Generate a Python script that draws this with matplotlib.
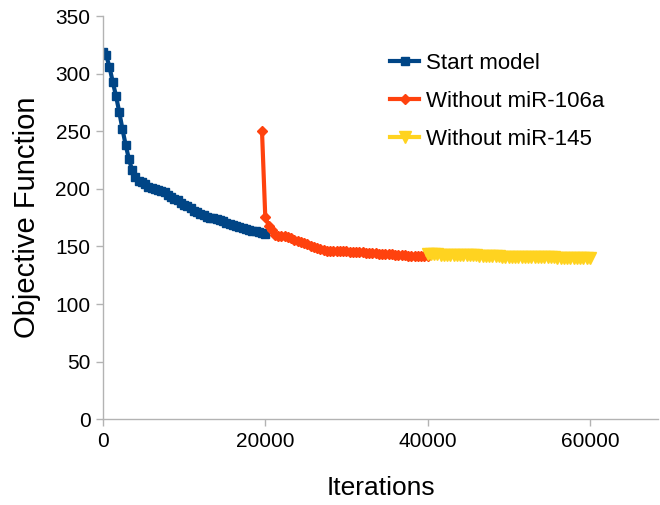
import numpy as np
import matplotlib.pyplot as plt

plt.rcParams['font.family'] = ['Liberation Sans', 'DejaVu Sans']

# objective value recorded every 400 iterations
step = 400

start_iter = list(range(0, 20001, step))
start_obj = [319, 316, 306, 293, 281, 267, 252, 238, 226, 216,
             210, 207, 206, 204, 202, 201, 200, 199, 198, 197,
             195, 193, 191, 190, 188, 186, 185, 183, 181, 180,
             178.5, 177, 176, 175, 174.5, 173.5, 173, 172, 170.5, 169.5,
             168.5, 168, 167, 166, 165, 164.5, 163.5, 163, 162.5, 162,
             161]

no106_iter = list(range(19600, 40001, step))
no106_obj = [250, 176, 168, 164, 160, 159, 159.5, 159, 158, 157,
             156, 155, 154, 153, 152, 150.5, 149.5, 148.5, 147.5, 146.5,
             146, 146, 146, 146, 146, 145.8, 145.7, 145.5, 145.3, 145.2,
             145, 144.8, 144.6, 144.4, 144.2, 144, 143.8, 143.6, 143.4, 143.2,
             143, 142.8, 142.6, 142.4, 142.2, 142, 141.9, 141.8, 141.7, 141.6,
             141.5, 141.5]

no145_iter = list(range(40000, 60001, step))
no145_obj = [143, 143, 143, 143, 142.9, 142.9, 142.9, 142.8, 142.8, 142.8,
             142.7, 142.7, 142.6, 142.6, 142.5, 142.5, 142, 142, 142, 142,
             142, 142, 141.9, 140.6, 140.6, 140.6, 140.5, 140.5, 140.5, 140.5,
             140.5, 140.5, 140.4, 140.4, 140.4, 140.4, 140.4, 140.4, 140.4, 140.4,
             140.3, 140.3, 140.3, 140.3, 140.3, 140.3, 140.3, 140.3, 140.3, 140.3,
             140.3]

fig = plt.figure(figsize=(6.6, 5.05), dpi=100)
ax = fig.add_axes([0.156, 0.170, 0.841, 0.798])

ax.plot(start_iter, start_obj, color='#004586', lw=3, marker='s', ms=6,
        label='Start model')
ax.plot(no106_iter, no106_obj, color='#ff420e', lw=3, marker='D', ms=5.5,
        label='Without miR-106a')
ax.plot(no145_iter, no145_obj, color='#ffd320', lw=3, marker='v', ms=8,
        label='Without miR-145')

ax.set_xlim(0, 68400)
ax.set_ylim(0, 350)
ax.set_xticks([0, 20000, 40000, 60000])
ax.set_yticks(np.arange(0, 351, 50))

for s in ['top', 'right']:
    ax.spines[s].set_visible(False)
for s in ['left', 'bottom']:
    ax.spines[s].set_color('#b3b3b3')
    ax.spines[s].set_linewidth(1)
ax.tick_params(direction='out', length=5, width=1, color='#b3b3b3',
               labelsize=15, labelcolor='#000000', pad=4)

ax.set_xlabel('Iterations', fontsize=19, labelpad=18)
ax.set_ylabel('Objective Function', fontsize=21, labelpad=10)

leg = ax.legend(loc='upper left', bbox_to_anchor=(0.502, 0.93), frameon=False,
                fontsize=16, handlelength=1.3, handletextpad=0.3,
                labelspacing=0.75, borderaxespad=0)

fig.savefig('out.png', dpi=100)
